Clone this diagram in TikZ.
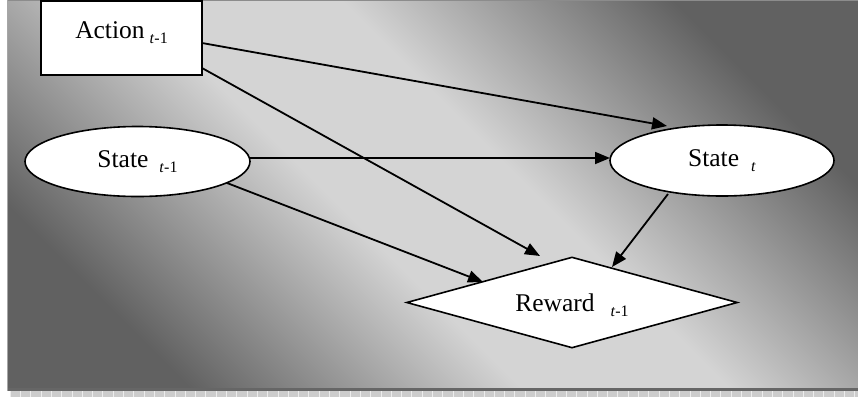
\documentclass[tikz,border=0pt]{standalone}
\usepackage{fontspec}
\setmainfont{Liberation Serif}
\usetikzlibrary{shapes.geometric,arrows.meta}
\definecolor{bgdark}{gray}{0.38}
\definecolor{bglight}{gray}{0.83}
\pgfdeclareverticalshading{bgshade}{100bp}{color(0bp)=(bgdark); color(25bp)=(bgdark); color(44bp)=(bglight); color(56bp)=(bglight); color(75bp)=(bgdark); color(100bp)=(bgdark)}
\newcommand{\subt}[2]{\hspace{#1}\raisebox{-5pt}{\fontsize{16}{16}\selectfont #2}}
\begin{document}
\begin{tikzpicture}[x=1pt,y=-1pt,
  shapebox/.style={draw=black,line width=1.6pt,fill=white,inner sep=0pt,font=\fontsize{25.5}{28}\selectfont},
  conn/.style={line width=1.8pt,-{Triangle[length=15pt,width=12pt]}}]
\useasboundingbox (0,0) rectangle (858,397);
\fill[white] (0,0) rectangle (858,397);
% background panel
\shade[shading=bgshade,shading angle=-45] (7,1) rectangle (858,389);
\fill[black!60] (7,388) rectangle (858,391);
\fill[gray!40] (10,391) rectangle (858,397);
\foreach \i in {0,...,82} \draw[gray!15,line width=0.6pt] ({10+\i*10.3},391) -- ++(0,6);
\draw[black!45,line width=1pt] (7,0.5) -- (858,0.5);
\draw[black!35,line width=1pt] (7,0) -- (7,391);
% nodes
\node[shapebox,rectangle,minimum width=161pt,minimum height=74pt,text height=12pt,text depth=12pt] (act) at (121.5,38) {Action\subt{5pt}{\textit{t}-1}};
\node[shapebox,ellipse,minimum width=225pt,minimum height=70pt,text height=18pt,text depth=6pt] (st1) at (137.5,161.5) {State\subt{11pt}{\textit{t}-1}};
\node[shapebox,ellipse,minimum width=224pt,minimum height=71pt,text height=18pt,text depth=6pt] (st) at (722,160.5) {State\subt{12pt}{\textit{t}}};
\node[shapebox,diamond,aspect=3.6,minimum width=331pt,minimum height=91pt,text height=21pt,text depth=4pt] (rw) at (572,302.5) {Reward\subt{16pt}{\textit{t}-1}};
% connector end points
\coordinate (a1s) at (202,43); \coordinate (a1e) at (667,126);
\coordinate (a2s) at (202,68); \coordinate (a2e) at (540,256);
\coordinate (a3s) at (250,158); \coordinate (a3e) at (610,158);
\coordinate (a4s) at (227,183); \coordinate (a4e) at (483,282);
\coordinate (a5s) at (668,194); \coordinate (a5e) at (612,267);
\draw[conn] (a1s) -- (a1e);
\draw[conn] (a2s) -- (a2e);
\draw[conn] (a3s) -- (a3e);
\draw[conn] (a4s) -- (a4e);
\draw[conn] (a5s) -- (a5e);
\end{tikzpicture}
\end{document}
